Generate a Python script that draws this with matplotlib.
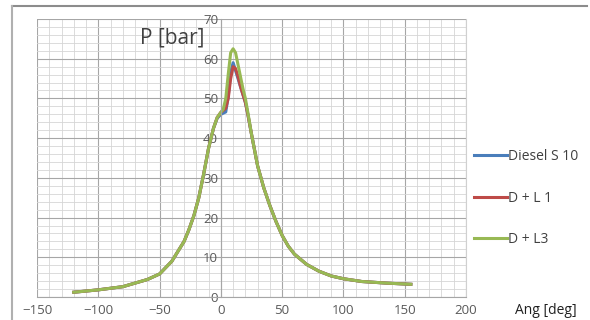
import matplotlib
matplotlib.use("Agg")
from matplotlib import pyplot as plt
from matplotlib.lines import Line2D
from matplotlib.ticker import MultipleLocator

# crank angle (deg) and cylinder pressure (bar)
ang = [-120, -100, -80, -60, -50, -40, -30, -26, -22, -18, -14, -10, -6, -3, 0,
       2, 4, 6, 8, 10, 12, 14, 16, 18, 20, 22, 25, 30, 35, 40, 45, 50, 55, 60,
       70, 80, 90, 100, 115, 135, 155]

p_diesel = [1.2, 1.8, 2.6, 4.4, 5.8, 9.0, 14.0, 17.0, 20.5, 25.0, 31.0, 37.5, 42.5, 45.0, 46.0,
            46.3, 46.6, 50.5, 56.5, 59.0, 57.0, 55.0, 53.0, 51.0, 49.0, 46.0, 41.0, 33.0, 27.5,
            23.0, 19.0, 15.5, 12.8, 10.8, 8.2, 6.5, 5.3, 4.6, 3.9, 3.5, 3.2]

p_dl1 = [1.2, 1.8, 2.6, 4.4, 5.8, 9.0, 14.0, 17.0, 20.5, 25.0, 31.0, 37.5, 42.5, 45.2, 46.5,
         47.0, 47.5, 50.0, 55.0, 58.0, 57.5, 55.5, 53.0, 51.0, 49.0, 46.0, 41.0, 33.0, 27.5,
         23.0, 19.0, 15.5, 12.8, 10.8, 8.2, 6.5, 5.3, 4.6, 3.9, 3.5, 3.2]

p_dl3 = [1.2, 1.8, 2.6, 4.4, 5.8, 9.0, 14.0, 17.0, 20.5, 25.0, 31.0, 37.5, 42.5, 45.2, 46.5,
         47.3, 50.0, 56.0, 61.5, 62.5, 61.5, 58.5, 55.5, 52.5, 50.0, 46.5, 41.0, 33.0, 27.5,
         23.0, 19.0, 15.5, 12.8, 10.8, 8.2, 6.5, 5.3, 4.6, 3.9, 3.5, 3.2]

plt.rcParams["font.family"] = ["Open Sans", "DejaVu Sans"]

fig = plt.figure(figsize=(5.9, 3.2), dpi=100)
ax = fig.add_axes([37 / 590, 23 / 320, 429 / 590, 278 / 320])

ax.plot(ang, p_diesel, color="#4a7ebb", lw=2.2, label="Diesel S 10")
ax.plot(ang, p_dl1, color="#be4b48", lw=2.2, label="D + L 1")
ax.plot(ang, p_dl3, color="#98b954", lw=2.2, label="D + L3")

ax.set_xlim(-150, 200)
ax.set_ylim(0, 70)
ax.xaxis.set_major_locator(MultipleLocator(50))
ax.xaxis.set_minor_locator(MultipleLocator(10))
ax.yaxis.set_major_locator(MultipleLocator(10))
ax.yaxis.set_minor_locator(MultipleLocator(2))
ax.grid(which="major", color="#a6a6a6", lw=0.8)
ax.grid(which="minor", color="#d6d6d6", lw=0.6)
ax.set_axisbelow(True)

ax.spines["left"].set_position(("data", 0))
ax.spines["left"].set_color("#a6a6a6")
ax.spines["bottom"].set_color("#a6a6a6")
ax.spines["top"].set_visible(False)
ax.spines["right"].set_color("#d0d0d0")
ax.tick_params(which="both", length=0, labelsize=9.5, labelcolor="#595959")
ax.tick_params(axis="x", pad=5)
ax.tick_params(axis="y", pad=2)

fig.text(172 / 590, 1 - 38 / 320, "P [bar]", ha="center", va="center",
         fontsize=15, color="#404040")
fig.text(546 / 590, 1 - 310 / 320, "Ang [deg]", ha="center", va="center",
         fontsize=10, color="#202020")

fig.legend(loc="center left", bbox_to_anchor=(467 / 590, 1 - 198 / 320),
           frameon=False, borderpad=0, handlelength=2.4, handletextpad=0.05,
           labelspacing=1.9, fontsize=10, labelcolor="#404040")

# outer chart border (only top and left visible in the picture)
fig.add_artist(Line2D([12 / 590, 587 / 590], [1 - 6 / 320, 1 - 6 / 320],
                      transform=fig.transFigure, color="#8c8c8c", lw=1.5))
fig.add_artist(Line2D([12 / 590, 12 / 590], [1 - 6 / 320, 0],
                      transform=fig.transFigure, color="#b0b0b0", lw=1.5))

fig.savefig("out.png", dpi=100)
